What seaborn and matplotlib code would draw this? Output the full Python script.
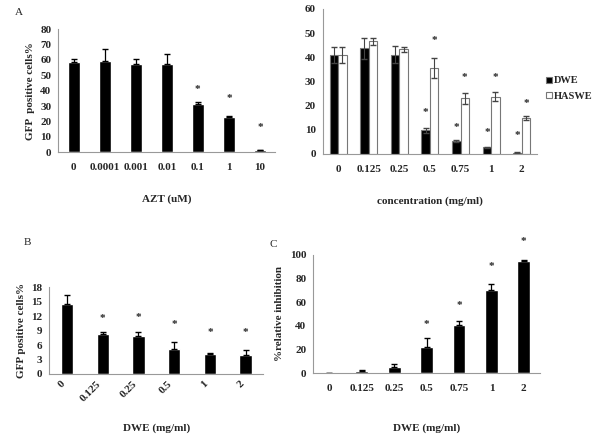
import numpy as np
import pandas as pd
import seaborn as sns
import matplotlib.pyplot as plt

sns.set_style("white")
plt.rcParams["font.family"] = ["Liberation Serif", "DejaVu Serif"]
plt.rcParams["font.weight"] = "bold"

# Panel A: AZT
azt_doses = ["0", "0.0001", "0.001", "0.01", "0.1", "1", "10"]
azt_gfp = [58.5, 59.5, 57.3, 57.5, 31.5, 22.8, 1.2]
azt_err = [2.3, 7.3, 3.5, 6.5, 1.3, 1.0, 0.5]
azt_star = [None, None, None, None, 41, 35, 16]

# Panel A right: DWE vs HASWE
conc_doses = ["0", "0.125", "0.25", "0.5", "0.75", "1", "2"]
dwe_gfp = [41.0, 43.7, 41.0, 9.7, 5.3, 2.7, 0.5]
dwe_err = [3.3, 4.3, 3.5, 1.2, 0.5, 0.3, 0.2]
haswe_gfp = [41.0, 46.5, 43.2, 35.5, 23.0, 23.7, 14.8]
haswe_err = [3.3, 1.3, 1.0, 4.0, 2.2, 1.7, 0.8]
dwe_star = [None, None, None, 17, 11, 9, 7.5]
haswe_star = [None, None, None, 47, 31.5, 31.5, 21]

# Panel B
b_doses = ["0", "0.125", "0.25", "0.5", "1", "2"]
b_gfp = [14.4, 8.3, 7.8, 5.2, 4.2, 3.9]
b_err = [1.9, 0.3, 0.8, 1.5, 0.1, 1.1]
b_star = [None, 11.4, 11.6, 10.3, 8.5, 8.5]

# Panel C
c_doses = ["0", "0.125", "0.25", "0.5", "0.75", "1", "2"]
c_inhib = [0.0, 2.0, 5.0, 22.0, 41.0, 70.0, 95.0]
c_err = [0.0, 0.5, 2.5, 7.5, 3.0, 5.0, 0.5]
c_star = [None, None, None, 41, 57, 90, 111]

fs = 8
fig = plt.figure(figsize=(6, 4.41), dpi=100)


def style_axes(ax, ymax, step, ncat, rot=0):
    ax.set_ylim(0, ymax)
    ax.set_yticks(np.arange(0, ymax + 0.01, step))
    ax.set_xlim(-0.5, ncat - 0.5)
    for s in ["top", "right"]:
        ax.spines[s].set_visible(False)
    for s in ["left", "bottom"]:
        ax.spines[s].set_color("#999999")
        ax.spines[s].set_linewidth(0.8)
    ax.tick_params(axis="y", length=3, color="#999999", labelsize=fs, pad=2)
    ax.tick_params(axis="x", which="major", length=0, labelsize=fs, pad=8)
    ax.set_xticks(np.arange(-0.5, ncat, 1), minor=True)
    ax.tick_params(axis="x", which="minor", length=3, color="#999999")
    for lab in ax.get_xticklabels() + ax.get_yticklabels():
        lab.set_fontweight("bold")
    if rot:
        for lab in ax.get_xticklabels():
            lab.set_rotation(rot)
            lab.set_ha("right")
            lab.set_va("top")
    ax.set_xlabel("")
    ax.set_ylabel("")


def add_stars(ax, x, heights):
    for xi, h in zip(x, heights):
        if h is not None:
            ax.text(xi, h, "*", ha="center", va="center", fontsize=8,
                    clip_on=False)


# Panel A
axA = fig.add_axes([0.097, 0.655, 0.362, 0.279])
dfA = pd.DataFrame({"dose": azt_doses, "gfp": azt_gfp})
sns.barplot(data=dfA, x="dose", y="gfp", color="black", width=0.4,
            errorbar=None, ax=axA, saturation=1)
xA = np.arange(len(azt_doses))
axA.errorbar(xA, azt_gfp, yerr=[np.zeros(len(azt_err)), azt_err], fmt="none",
             ecolor="black", capsize=2.5, elinewidth=0.9)
style_axes(axA, 80, 10, len(azt_doses))
add_stars(axA, xA, azt_star)
axA.set_ylabel("GFP  positive cells%", fontsize=fs, fontweight="bold")
axA.set_xlabel("AZT (uM)", fontsize=fs, fontweight="bold", labelpad=16)
fig.text(0.025, 0.965, "A", fontsize=fs, fontweight="normal")

# Panel A right
axR = fig.add_axes([0.538, 0.651, 0.357, 0.329])
dfR = pd.DataFrame({
    "dose": conc_doses * 2,
    "gfp": dwe_gfp + haswe_gfp,
    "extract": ["DWE"] * len(conc_doses) + ["HASWE"] * len(conc_doses),
})
sns.barplot(data=dfR, x="dose", y="gfp", hue="extract",
            palette={"DWE": "black", "HASWE": "white"}, width=0.55,
            errorbar=None, ax=axR, saturation=1, edgecolor="#777777", linewidth=0.8)
xR = np.arange(len(conc_doses))
bw = 0.55 / 2
axR.errorbar(xR - bw / 2, dwe_gfp, yerr=dwe_err, fmt="none",
             ecolor="#444444", capsize=2, elinewidth=0.8)
axR.errorbar(xR + bw / 2, haswe_gfp, yerr=haswe_err, fmt="none",
             ecolor="#444444", capsize=2, elinewidth=0.8)
style_axes(axR, 60, 10, len(conc_doses))
add_stars(axR, xR - bw / 2, dwe_star)
add_stars(axR, xR + bw / 2, haswe_star)
axR.set_xlabel("concentration (mg/ml)", fontsize=fs, fontweight="bold", labelpad=16)
leg = axR.legend(loc="center left", bbox_to_anchor=(1.04, 0.45), frameon=False,
                 fontsize=7.5, handlelength=0.6, handleheight=0.6, handletextpad=0.2,
                 labelspacing=0.6, borderaxespad=0, borderpad=0)
for t in leg.get_texts():
    t.set_fontweight("bold")

# Panel B
axB = fig.add_axes([0.082, 0.152, 0.357, 0.197])
dfB = pd.DataFrame({"dose": b_doses, "gfp": b_gfp})
sns.barplot(data=dfB, x="dose", y="gfp", color="black", width=0.34,
            errorbar=None, ax=axB, saturation=1)
xB = np.arange(len(b_doses))
axB.errorbar(xB, b_gfp, yerr=[np.zeros(len(b_err)), b_err], fmt="none",
             ecolor="black", capsize=2.5, elinewidth=0.9)
style_axes(axB, 18, 3, len(b_doses), rot=45)
axB.tick_params(axis="x", which="major", pad=4)
add_stars(axB, xB, b_star)
axB.set_ylabel("GFP positive cells%", fontsize=fs, fontweight="bold")
axB.set_xlabel("DWE (mg/ml)", fontsize=fs, fontweight="bold", labelpad=14)
fig.text(0.04, 0.445, "B", fontsize=fs, fontweight="normal")

# Panel C
axC = fig.add_axes([0.522, 0.154, 0.378, 0.268])
dfC = pd.DataFrame({"dose": c_doses, "inhib": c_inhib})
sns.barplot(data=dfC, x="dose", y="inhib", color="black", width=0.4,
            errorbar=None, ax=axC, saturation=1)
xC = np.arange(len(c_doses))
axC.errorbar(xC, c_inhib, yerr=[np.zeros(len(c_err)), c_err], fmt="none",
             ecolor="black", capsize=2.5, elinewidth=0.9)
style_axes(axC, 100, 20, len(c_doses))
axC.set_ylim(0, 100)
add_stars(axC, xC, c_star)
axC.set_ylabel("%relative inhibition", fontsize=fs, fontweight="bold")
axC.set_xlabel("DWE (mg/ml)", fontsize=fs, fontweight="bold", labelpad=22)
fig.text(0.45, 0.44, "C", fontsize=fs, fontweight="normal")

fig.savefig("out.png", dpi=100)
